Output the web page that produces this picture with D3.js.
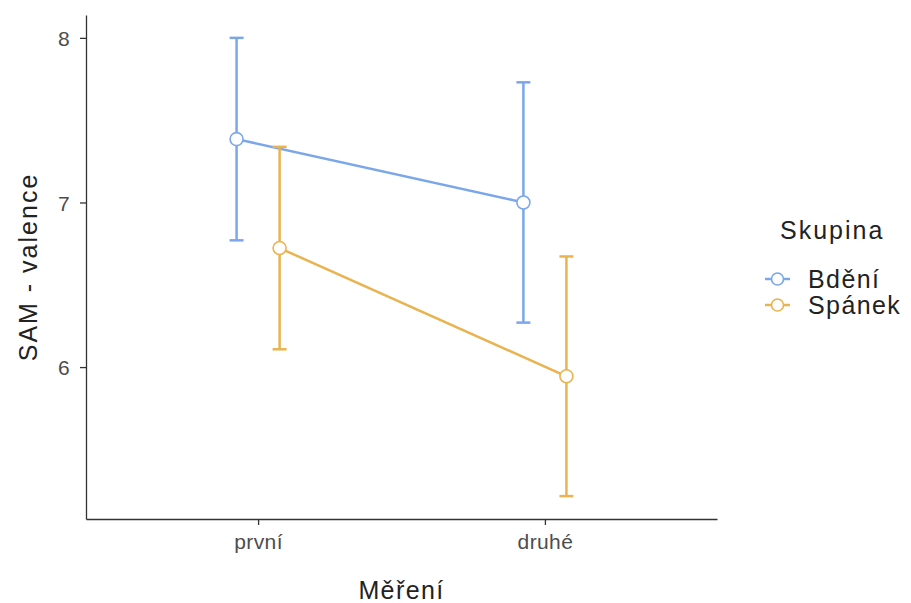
<!DOCTYPE html>
<html>
<head>
<meta charset="utf-8">
<script src="https://cdn.jsdelivr.net/npm/d3@7"></script>
<style>
  body { margin: 0; background: #fff; }
  svg { display: block; font-family: "Liberation Sans", Arial, sans-serif; }
</style>
</head>
<body>
<svg id="chart" width="911" height="603"></svg>
<script>
// measurement occasions and groups
const occasions = ["první", "druhé"];
const groups = ["Bdění", "Spánek"];
const groupColors = ["#7ba7ea", "#e9b34f"];

// means and 95% CI per group, in order of occasions
const bdeniMean  = [7.385, 7.000];
const bdeniLow   = [6.770, 6.270];
const bdeniHigh  = [8.000, 7.730];
const spanekMean = [6.723, 5.944];
const spanekLow  = [6.108, 5.216];
const spanekHigh = [7.338, 6.672];

const yTicks = [6, 7, 8];

const series = [
  { name: groups[0], color: groupColors[0], mean: bdeniMean, low: bdeniLow, high: bdeniHigh, dodge: -1 },
  { name: groups[1], color: groupColors[1], mean: spanekMean, low: spanekLow, high: spanekHigh, dodge: 1 }
];

const svg = d3.select("#chart");
const margin = { left: 86, right: 194, top: 15, bottom: 84 };
const W = 911, H = 603;

const x = d3.scalePoint().domain(occasions).range([margin.left, W - margin.right]).padding(0.6);
const y = d3.scaleLinear().domain([5.077, 8.139]).range([H - margin.bottom, margin.top]);
const dodge = x.step() * 0.075;

// axes
const yAxis = svg.append("g")
  .attr("transform", `translate(${margin.left},0)`)
  .call(d3.axisLeft(y).tickValues(yTicks).tickFormat(d3.format("d")).tickSize(6).tickPadding(10).tickSizeOuter(0));
const xAxis = svg.append("g")
  .attr("transform", `translate(0,${H - margin.bottom})`)
  .call(d3.axisBottom(x).tickSize(6).tickPadding(9).tickSizeOuter(0));

[xAxis, yAxis].forEach(a => {
  a.select(".domain").attr("stroke", "#333").attr("stroke-width", 1.3);
  a.selectAll(".tick line").attr("stroke", "#333").attr("stroke-width", 1.3);
  a.selectAll(".tick text")
    .attr("fill", "#4d4d4d")
    .style("font-size", "21px")
    .style("letter-spacing", "0.4px")
    .style("font-family", "'Liberation Sans', Arial, sans-serif");
});
yAxis.selectAll(".tick text").attr("dy", "0.36em");

// axis titles
svg.append("text")
  .attr("x", (margin.left + W - margin.right) / 2)
  .attr("y", 599)
  .attr("text-anchor", "middle")
  .attr("fill", "#222")
  .style("font-size", "25px")
  .style("letter-spacing", "1.4px")
  .text("Měření");

svg.append("text")
  .attr("transform", `translate(37,${(margin.top + H - margin.bottom) / 2}) rotate(-90)`)
  .attr("text-anchor", "middle")
  .attr("fill", "#222")
  .style("font-size", "25px")
  .style("letter-spacing", "2px")
  .text("SAM - valence");

const line = d3.line()
  .x((d, i) => x(occasions[i]) + d.off)
  .y(d => y(d.v));

series.forEach(s => {
  const g = svg.append("g");
  const off = s.dodge * dodge;
  const pts = s.mean.map(v => ({ v, off }));

  // error bars
  occasions.forEach((o, i) => {
    const cx = x(o) + off;
    g.append("line")
      .attr("x1", cx).attr("x2", cx)
      .attr("y1", y(s.low[i])).attr("y2", y(s.high[i]))
      .attr("stroke", s.color).attr("stroke-width", 2.5);
    [s.low[i], s.high[i]].forEach(v => {
      g.append("line")
        .attr("x1", cx - 7).attr("x2", cx + 7)
        .attr("y1", y(v)).attr("y2", y(v))
        .attr("stroke", s.color).attr("stroke-width", 2.5);
    });
  });

  g.append("path")
    .datum(pts)
    .attr("d", line)
    .attr("fill", "none")
    .attr("stroke", s.color)
    .attr("stroke-width", 2.5);

  g.selectAll("circle")
    .data(pts)
    .join("circle")
    .attr("cx", (d, i) => x(occasions[i]) + d.off)
    .attr("cy", d => y(d.v))
    .attr("r", 6.5)
    .attr("fill", "#fff")
    .attr("stroke", s.color)
    .attr("stroke-width", 1.6);
});

// legend
const legend = svg.append("g").attr("transform", "translate(780,0)");
legend.append("text")
  .attr("x", 0).attr("y", 239)
  .attr("fill", "#222")
  .style("font-size", "25px")
  .style("letter-spacing", "2px")
  .text("Skupina");

series.forEach((s, i) => {
  const ly = 279 + i * 26;
  legend.append("line")
    .attr("x1", -15).attr("x2", 10)
    .attr("y1", ly).attr("y2", ly)
    .attr("stroke", s.color).attr("stroke-width", 2.5);
  legend.append("circle")
    .attr("cx", -2.5).attr("cy", ly).attr("r", 6)
    .attr("fill", "#fff").attr("stroke", s.color).attr("stroke-width", 1.6);
  legend.append("text")
    .attr("x", 28).attr("y", ly)
    .attr("dy", "0.36em")
    .attr("fill", "#222")
    .style("font-size", "25px")
    .style("letter-spacing", "1.4px")
    .text(s.name);
});
</script>
</body>
</html>
